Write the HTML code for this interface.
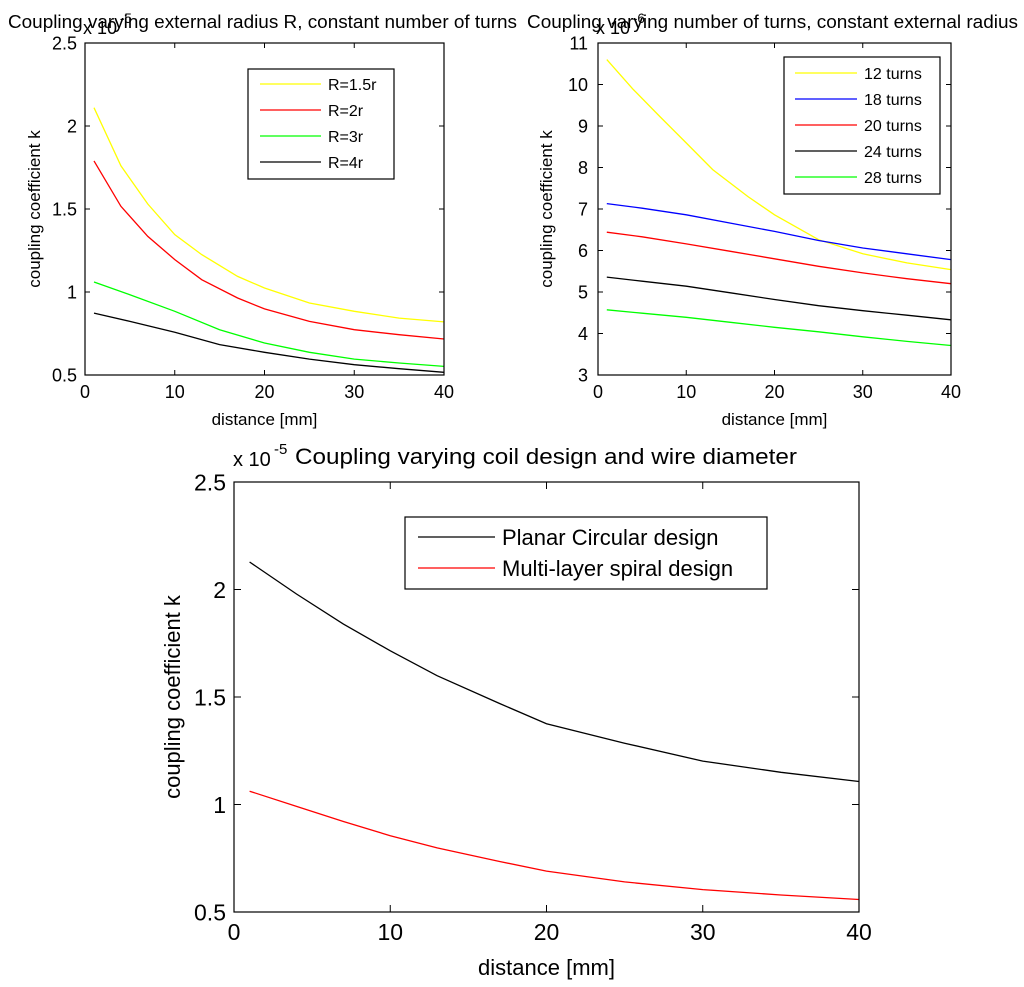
<!DOCTYPE html>
<html><head><meta charset="utf-8"><style>
body{margin:0;background:#fff;}
svg{display:block;font-family:"Liberation Sans",Arial,sans-serif;}
</style></head><body>
<svg id="fig" width="1024" height="987" viewBox="0 0 1024 987"></svg>
<script>
const xDist = [1,4,7,10,13,17,20,25,30,35,40];
const xDist2 = [1,5,10,15,20,25,30,35,40];
const p1Yellow = [2.11,1.76,1.53,1.345,1.225,1.094,1.024,0.934,0.884,0.843,0.82];
const p1Red = [1.79,1.516,1.335,1.195,1.074,0.964,0.898,0.823,0.773,0.743,0.717];
const p1Green = [1.06,0.984,0.884,0.773,0.693,0.637,0.596,0.572,0.552];
const p1Black = [0.873,0.823,0.757,0.683,0.637,0.596,0.562,0.538,0.516];
const p2Yellow = [10.6,9.88,9.23,8.59,7.95,7.3,6.86,6.26,5.92,5.70,5.54];
const p2Blue = [7.13,7.02,6.86,6.66,6.46,6.24,6.06,5.92,5.78];
const p2Red = [6.44,6.33,6.16,5.98,5.80,5.62,5.46,5.32,5.20];
const p2Black = [5.36,5.26,5.14,4.98,4.82,4.67,4.55,4.44,4.33];
const p2Green = [4.57,4.49,4.39,4.27,4.15,4.04,3.92,3.81,3.71];
const p3Black = [2.128,1.979,1.839,1.715,1.599,1.47,1.376,1.285,1.202,1.15,1.107];
const p3Red = [1.062,0.991,0.921,0.855,0.798,0.735,0.69,0.64,0.604,0.579,0.558];
const xTicks = [0,10,20,30,40];
const yTicks1 = [0.5,1,1.5,2,2.5];
const yTicks2 = [3,4,5,6,7,8,9,10,11];
const yTicks3 = [0.5,1,1.5,2,2.5];

const NS="http://www.w3.org/2000/svg";
const svg=document.getElementById('fig');
function mk(tag,attrs,parent,text){const e=document.createElementNS(NS,tag);for(const k in attrs)e.setAttribute(k,attrs[k]);if(text!==undefined)e.textContent=text;(parent||svg).appendChild(e);return e;}

function plot(cfg){
  const g=mk('g',{});
  
  
  const sx=v=>cfg.x0+(v-0)/(40-0)*(cfg.x1-cfg.x0);
  const sy=v=>cfg.y1-(v-cfg.ymin)/(cfg.ymax-cfg.ymin)*(cfg.y1-cfg.y0);
  const fs=cfg.fs;
  xTicks.forEach(t=>{
    const X=sx(t);
    mk('line',{x1:X,x2:X,y1:cfg.y1,y2:cfg.y1-cfg.tk,stroke:'#000'},g);
    mk('line',{x1:X,x2:X,y1:cfg.y0,y2:cfg.y0+cfg.tk,stroke:'#000'},g);
    const tl=mk('text',{x:X,y:cfg.y1+cfg.xtb,'font-size':fs,'text-anchor':'middle'},g,String(t));
    
    
  });
  cfg.yTicks.forEach(t=>{
    const Y=sy(t);
    mk('line',{x1:cfg.x0,x2:cfg.x0+cfg.tk,y1:Y,y2:Y,stroke:'#000'},g);
    mk('line',{x1:cfg.x1,x2:cfg.x1-cfg.tk,y1:Y,y2:Y,stroke:'#000'},g);
    const tl=mk('text',{x:cfg.x0-cfg.ygap,y:Y+fs*0.36,'font-size':fs,'text-anchor':'end'},g,String(t));
    
    
  });
  cfg.series.forEach(s=>{
    const pts=s.y.map((v,i)=>sx(s.x[i]).toFixed(1)+','+sy(v).toFixed(1)).join(' ');
    const pl=mk('polyline',{points:pts,fill:'none',stroke:s.c,'stroke-width':1.3},g);
    
    
  });
  const fr=mk('rect',{x:cfg.x0,y:cfg.y0,width:cfg.x1-cfg.x0,height:cfg.y1-cfg.y0,fill:'none',stroke:'#000','stroke-width':1.2},g);
  
  
  const L=cfg.leg;
  const lb=mk('rect',{x:L.x,y:L.y,width:L.w,height:L.h,fill:'#fff',stroke:'#000','stroke-width':1.2},g);
  
  
  cfg.series.forEach((s,i)=>{
    const Y=L.ly0+i*L.dy;
    mk('line',{x1:L.lx0,x2:L.lx1,y1:Y,y2:Y,stroke:s.c,'stroke-width':1.3},g);
    const t=mk('text',{x:L.tx,y:Y+L.fs*0.36,'font-size':L.fs},g,s.label);
    
    
  });
  const xl=mk('text',{x:(cfg.x0+cfg.x1)/2,y:cfg.xly,'font-size':cfg.lfs,'text-anchor':'middle'},g,'distance [mm]');
  
  
  const yl=mk('text',{x:0,y:0,'font-size':cfg.lfs,'text-anchor':'middle',transform:`translate(${cfg.ylx},${(cfg.y0+cfg.y1)/2}) rotate(-90)`},g,'coupling coefficient k');
  
  
  const ex=mk('text',{x:cfg.ex,y:cfg.ey,'font-size':cfg.efs},g,'x 10');
  
  
  mk('text',{x:cfg.ex+cfg.efs*2.05,y:cfg.ey-cfg.efs*0.6,'font-size':cfg.efs*0.75},g,cfg.exp);
  const ti=mk('text',{x:cfg.tx,y:cfg.ty,'font-size':cfg.tfs,textLength:cfg.tw,lengthAdjust:'spacingAndGlyphs'},g,cfg.title);
  
  
}

plot({name:'plot-radius',x0:85,x1:444,y0:43,y1:375,ymin:0.5,ymax:2.5,yTicks:yTicks1,fs:18,lfs:17,efs:18,exp:'-5',tk:5,xtb:23,ygap:8,
  ex:83,ey:34,
  title:'Coupling varying external radius R, constant number of turns',tx:8,ty:28,tfs:18,tw:509,xly:425,ylx:40,
  leg:{x:248,y:69,w:146,h:110,ly0:84,dy:26,lx0:260,lx1:321,tx:328,fs:16},
  series:[{n:'r15',x:xDist,y:p1Yellow,c:'#ffff00',label:'R=1.5r'},{n:'r2',x:xDist,y:p1Red,c:'#ff0000',label:'R=2r'},
          {n:'r3',x:xDist2,y:p1Green,c:'#00ff00',label:'R=3r'},{n:'r4',x:xDist2,y:p1Black,c:'#000000',label:'R=4r'}]});

plot({name:'plot-turns',x0:598,x1:951,y0:43,y1:375,ymin:3,ymax:11,yTicks:yTicks2,fs:18,lfs:17,efs:18,exp:'-6',tk:5,xtb:23,ygap:10,
  ex:596,ey:34,
  title:'Coupling varying number of turns, constant external radius',tx:527,ty:28,tfs:18,tw:491,xly:425,ylx:552,
  leg:{x:784,y:57,w:156,h:137,ly0:73,dy:26,lx0:795,lx1:857,tx:864,fs:16},
  series:[{n:'t12',x:xDist,y:p2Yellow,c:'#ffff00',label:'12 turns'},{n:'t18',x:xDist2,y:p2Blue,c:'#0000ff',label:'18 turns'},
          {n:'t20',x:xDist2,y:p2Red,c:'#ff0000',label:'20 turns'},{n:'t24',x:xDist2,y:p2Black,c:'#000000',label:'24 turns'},
          {n:'t28',x:xDist2,y:p2Green,c:'#00ff00',label:'28 turns'}]});

plot({name:'plot-design',x0:234,x1:859,y0:482,y1:912,ymin:0.5,ymax:2.5,yTicks:yTicks3,fs:23,lfs:22,efs:20,exp:'-5',tk:7,xtb:28,ygap:8,
  ex:233,ey:466,
  title:'Coupling varying coil design and wire diameter',tx:295,ty:464,tfs:22,tw:502,xly:975,ylx:180,
  leg:{x:405,y:517,w:362,h:72,ly0:537,dy:31,lx0:418,lx1:495,tx:502,fs:22},
  series:[{n:'planar',x:xDist,y:p3Black,c:'#000000',label:'Planar Circular design'},
          {n:'multilayer',x:xDist,y:p3Red,c:'#ff0000',label:'Multi-layer spiral design'}]});
</script>
</body></html>
